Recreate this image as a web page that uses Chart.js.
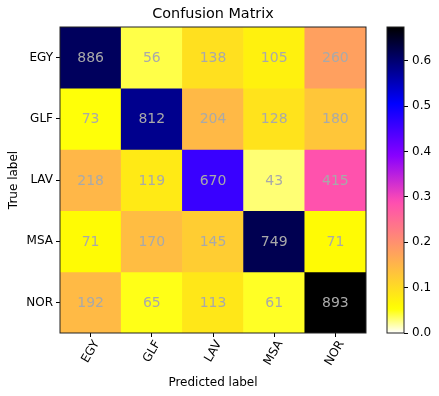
<!DOCTYPE html>
<html><head><meta charset="utf-8">
<script src="https://cdn.jsdelivr.net/npm/chart.js@4.4.0/dist/chart.umd.min.js"></script>
<style>html,body{margin:0;padding:0;background:#fff}#wrap{position:relative;width:439px;height:396px}canvas{position:absolute;left:0;top:0}</style>
</head><body><div id="wrap"><canvas id="main" width="439" height="396"></canvas><canvas id="cbar" width="439" height="396"></canvas></div>
<script>
const predictedLabels = ['EGY', 'GLF', 'LAV', 'MSA', 'NOR'];
const trueLabels = ['EGY', 'GLF', 'LAV', 'MSA', 'NOR'];
const countsEGY = [886, 56, 138, 105, 260];
const countsGLF = [73, 812, 204, 128, 180];
const countsLAV = [218, 119, 670, 43, 415];
const countsMSA = [71, 170, 145, 749, 71];
const countsNOR = [192, 65, 113, 61, 893];
const colorbarTicks = [0.0, 0.1, 0.2, 0.3, 0.4, 0.5, 0.6];

const rows = [countsEGY, countsGLF, countsLAV, countsMSA, countsNOR];
const n = rows.length;
const norm = rows.map(r => { const s = r.reduce((a, b) => a + b, 0); return r.map(v => v / s); });
const vmax = Math.max(...norm.flat());

function clip(v) { return Math.max(0, Math.min(1, v)); }
function gnuplot2(x) {
  const r = clip(x / 0.32 - 0.78125);
  const g = clip(2 * x - 0.84);
  let b;
  if (x < 0.25) b = 4 * x; else if (x < 0.92) b = -2 * x + 1.84; else b = x / 0.08 - 11.5;
  b = clip(b);
  return [r, g, b];
}
function cmap(t) {
  const [r, g, b] = gnuplot2(1 - clip(t));
  return 'rgb(' + Math.round(r * 255) + ',' + Math.round(g * 255) + ',' + Math.round(b * 255) + ')';
}

Chart.defaults.font.family = "'DejaVu Sans', sans-serif";
Chart.defaults.color = '#000';

const datasets = rows.map((r, i) => ({
  label: trueLabels[i],
  data: r.map(() => [n - 1 - i, n - i]),
  backgroundColor: norm[i].map(v => cmap(v / vmax)),
  borderColor: norm[i].map(v => cmap(v / vmax)),
  borderWidth: 0,
  borderSkipped: false,
  grouped: false,
  barPercentage: 1,
  categoryPercentage: 1
}));

const textPlugin = {
  id: 'cellText',
  afterDatasetsDraw(chart) {
    const ctx = chart.ctx;
    ctx.save();
    ctx.font = "14px 'DejaVu Sans'";
    ctx.fillStyle = 'darkgray';
    ctx.textAlign = 'center';
    ctx.textBaseline = 'middle';
    chart.data.datasets.forEach((ds, i) => {
      const meta = chart.getDatasetMeta(i);
      meta.data.forEach((el, j) => {
        const p = el.getProps(['x', 'y', 'base'], true);
        ctx.fillText(String(rows[i][j]), p.x, (p.y + p.base) / 2 + 1);
      });
    });
    const a = chart.chartArea;
    ctx.strokeStyle = '#222';
    ctx.lineWidth = 1;
    ctx.strokeRect(a.left, a.top, a.right - a.left, a.bottom - a.top);
    ctx.restore();
  }
};

new Chart(document.getElementById('main'), {
  type: 'bar',
  data: { labels: predictedLabels, datasets },
  options: {
    responsive: false,
    animation: false,
    devicePixelRatio: 1,
    layout: { padding: { left: 7, right: 73, top: 0, bottom: 6 } },
    plugins: {
      legend: { display: false },
      tooltip: { enabled: false },
      title: {
        display: true, text: 'Confusion Matrix', fullSize: false,
        font: { size: 14.4, weight: 'normal' }, color: '#000',
        padding: { top: 6, bottom: 3.72 }
      }
    },
    scales: {
      x: {
        type: 'category',
        offset: true,
        grid: { offset: false, drawOnChartArea: false, drawTicks: true, tickLength: 4, color: '#000' },
        border: { display: false },
        ticks: { minRotation: 60, maxRotation: 60, font: { size: 12 }, color: '#000', padding: 1, labelOffset: 6 },
        title: { display: true, text: 'Predicted label', font: { size: 12 }, color: '#000', padding: { top: 0, bottom: 0 } },
        afterFit: s => { s.height = 57; }
      },
      y: {
        type: 'linear', min: 0, max: n,
        grid: { drawOnChartArea: false, drawTicks: true, tickLength: 4, color: '#000' },
        border: { display: false },
        afterBuildTicks: s => { s.ticks = trueLabels.map((_, k) => ({ value: k + 0.5 })); },
        ticks: { font: { size: 12 }, color: '#000', padding: 3, callback: v => trueLabels[n - 1 - Math.floor(v)] },
        title: { display: true, text: 'True label', font: { size: 12 }, color: '#000', padding: { top: 0, bottom: 0 } },
        afterFit: s => { s.width = 53; }
      }
    }
  },
  plugins: [textPlugin]
});

const gradPlugin = {
  id: 'cbGrad',
  beforeDatasetsDraw(chart) {
    const a = chart.chartArea, ctx = chart.ctx;
    const g = ctx.createLinearGradient(0, a.bottom, 0, a.top);
    const steps = 64;
    for (let k = 0; k <= steps; k++) g.addColorStop(k / steps, cmap(k / steps));
    ctx.save();
    ctx.fillStyle = g;
    ctx.fillRect(a.left, a.top, a.right - a.left, a.bottom - a.top);
    ctx.strokeStyle = '#222';
    ctx.lineWidth = 1;
    ctx.strokeRect(a.left, a.top, a.right - a.left, a.bottom - a.top);
    ctx.restore();
  }
};

new Chart(document.getElementById('cbar'), {
  type: 'scatter',
  data: { datasets: [{ data: [] }] },
  options: {
    responsive: false,
    animation: false,
    devicePixelRatio: 1,
    layout: { padding: { left: 387, right: 0, top: 27, bottom: 63 } },
    plugins: { legend: { display: false }, tooltip: { enabled: false } },
    scales: {
      x: { display: false, min: 0, max: 1 },
      y: {
        position: 'right', min: 0, max: vmax,
        grid: { drawOnChartArea: false, drawTicks: true, tickLength: 4, color: '#000' },
        border: { display: false },
        afterBuildTicks: s => { s.ticks = colorbarTicks.map(v => ({ value: v })); },
        ticks: { font: { size: 12 }, color: '#000', padding: 4, callback: v => Number(v).toFixed(1) },
        afterFit: s => { s.width = 35; }
      }
    }
  },
  plugins: [gradPlugin]
});
</script>
</body></html>
